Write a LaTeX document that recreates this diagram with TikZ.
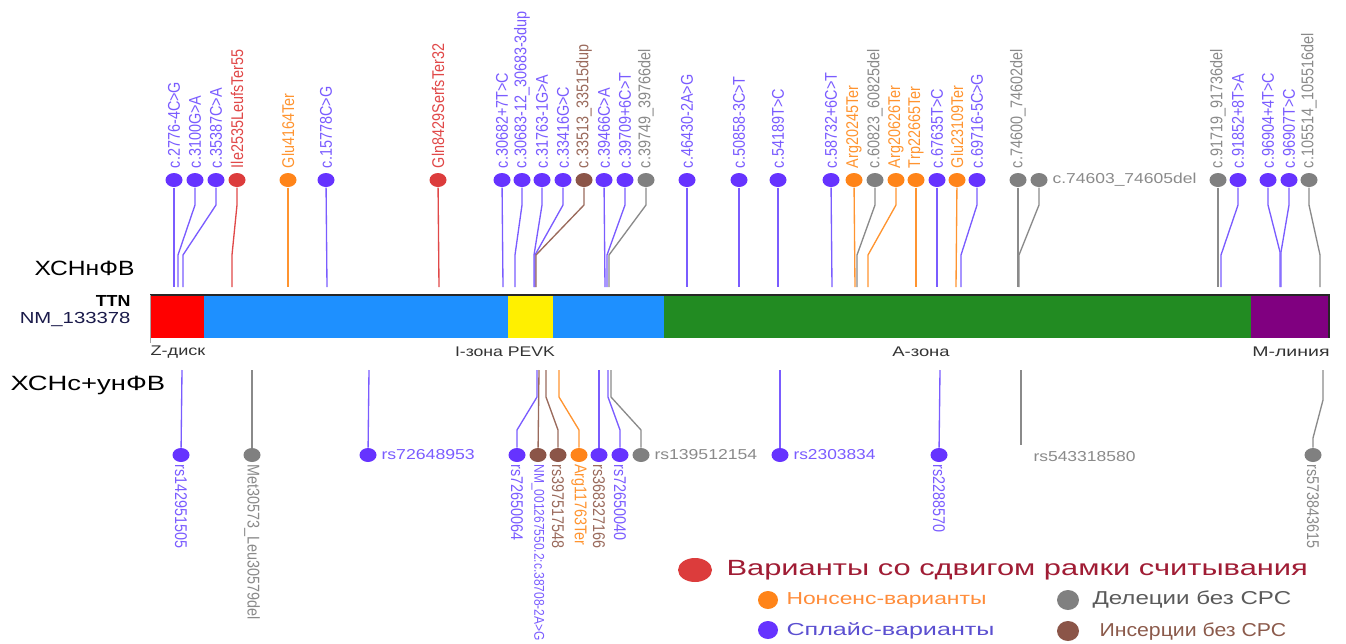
\documentclass[tikz,border=0pt]{standalone}
\usepackage{fontspec}
\setmainfont{Liberation Sans}
\usepackage{graphicx}
\usetikzlibrary{shapes.geometric}

\definecolor{splc}{HTML}{6633FF}
\definecolor{splcl}{HTML}{7A5CFF}
\definecolor{fsh}{HTML}{DC3C3C}
\definecolor{fshl}{HTML}{E04848}
\definecolor{nons}{HTML}{FF8419}
\definecolor{nonsl}{HTML}{FF9430}
\definecolor{dele}{HTML}{808080}
\definecolor{delel}{HTML}{8A8A8A}
\definecolor{ins}{HTML}{8B5548}
\definecolor{insl}{HTML}{9A6A5C}
\definecolor{zdisk}{HTML}{FF0000}
\definecolor{izone}{HTML}{1E90FF}
\definecolor{pevk}{HTML}{FFF000}
\definecolor{azone}{HTML}{228B22}
\definecolor{mline}{HTML}{800080}
\definecolor{navy}{HTML}{1A1A4A}
\definecolor{legred}{HTML}{A01C34}
\definecolor{legorange}{HTML}{FF8C3A}
\definecolor{leggray}{HTML}{5A5A5A}
\definecolor{legblue}{HTML}{5B4FD0}
\definecolor{legbrown}{HTML}{8B5A4B}

\newcommand{\fitw}[2]{\resizebox{#1}{\height}{#2}}
\newcommand{\vt}[1]{\scalebox{1}[1.18]{#1}}

\tikzset{every picture/.style={line width=0.75pt}}
\tikzset{
  dot/.style={ellipse, inner sep=0pt, minimum width=12.75pt, minimum height=10.5pt},
  stem/.style={line width=1pt},
  varfont/.style={font=\fontsize{10.8}{12}\selectfont},
  uplbl/.style={varfont, rotate=90, anchor=west, inner xsep=3pt, inner ysep=0pt},
  dnlbl/.style={varfont, rotate=-90, anchor=west, inner xsep=1pt, inner ysep=0pt},
  sidelbl/.style={varfont, anchor=west, inner xsep=3pt, inner ysep=0pt},
  zonelbl/.style={font=\fontsize{10.5}{12}\selectfont, text=black!80, inner sep=0pt},
  grplbl/.style={anchor=west, inner sep=0pt, font=\fontsize{15.5}{18}\selectfont},
  legdot/.style={ellipse, inner sep=0pt, minimum width=15pt, minimum height=13.5pt},
  legtxt/.style={anchor=west, inner sep=0pt, font=\fontsize{13}{15}\selectfont},
}

\begin{document}
\begin{tikzpicture}[x=0.75pt,y=0.75pt,yscale=-1,xscale=1]
	\useasboundingbox (0,0) rectangle (1346,643);
	
	%Shape: gene bar
	\fill[zdisk] (150,295) rectangle (204,338);
	\fill[izone] (204,295) rectangle (508,338);
	\fill[pevk] (508,295) rectangle (553,338);
	\fill[izone] (553,295) rectangle (664,338);
	\fill[azone] (664,295) rectangle (1251,338);
	\fill[mline] (1251,295) rectangle (1329,338);
	\draw[line width=1.5pt, black!85] (150,295) -- (1330,295);
	\draw[line width=1.5pt, black!85] (1329,295) -- (1329,338);
	\draw[black!35] (150,295) -- (150,343);
	
	% Zone labels
	\node[zonelbl] (zd) at (178,352) {\fitw{41pt}{Z-диск}};
	\node[zonelbl] (iz) at (505,352) {\fitw{75pt}{I-зона PEVK}};
	\node[zonelbl] (az) at (921,352) {\fitw{43pt}{A-зона}};
	\node[zonelbl] (ml) at (1291,352) {\fitw{58pt}{M-линия}};
	
	% Left labels
	\node[grplbl] (grp1) at (34,268) {\fitw{75pt}{ХСНнФВ}};
	\node[anchor=east, inner sep=0pt, font=\bfseries\fontsize{12}{14}\selectfont] (gene) at (131,301) {\fitw{26pt}{TTN}};
	\node[anchor=east, inner sep=0pt, font=\fontsize{12}{14}\selectfont, text=navy] (tr) at (131,319) {\fitw{83pt}{NM\_133378}};
	\node[grplbl] (grp2) at (10,385) {\fitw{116pt}{ХСНс+унФВ}};
	
	%Top: c.2776-4C>G
	\coordinate (tb1) at (174,287);
	\node[dot, fill=splc] (t1) at (174,180) {};
	\node[uplbl, text=splcl] (tl1) at (t1.north) {\vt{c.2776-4C>G}};
	\draw[stem, splcl] (t1) -- (tb1);
	%Top: c.3100G>A
	\coordinate (tb2) at (178,287);
	\node[dot, fill=splc] (t2) at (195,180) {};
	\node[uplbl, text=splcl] (tl2) at (t2.north) {\vt{c.3100G>A}};
	\draw[stem, splcl] (t2) -- (195,205) -- (178,255) -- (tb2);
	%Top: c.35387C>A
	\coordinate (tb3) at (183,287);
	\node[dot, fill=splc] (t3) at (216,180) {};
	\node[uplbl, text=splcl] (tl3) at (t3.north) {\vt{c.35387C>A}};
	\draw[stem, splcl] (t3) -- (216,205) -- (183,255) -- (tb3);
	%Top: Ile2535LeufsTer55
	\coordinate (tb4) at (232,287);
	\node[dot, fill=fsh] (t4) at (237,180) {};
	\node[uplbl, text=fshl] (tl4) at (t4.north) {\vt{Ile2535LeufsTer55}};
	\draw[stem, fshl] (t4) -- (237,205) -- (232,255) -- (tb4);
	%Top: Glu4164Ter
	\coordinate (tb5) at (288,287);
	\node[dot, fill=nons] (t5) at (288,180) {};
	\node[uplbl, text=nonsl] (tl5) at (t5.north) {\vt{Glu4164Ter}};
	\draw[stem, nonsl] (t5) -- (tb5);
	%Top: c.15778C>G
	\coordinate (tb6) at (327,287);
	\node[dot, fill=splc] (t6) at (326,180) {};
	\node[uplbl, text=splcl] (tl6) at (t6.north) {\vt{c.15778C>G}};
	\draw[stem, splcl] (t6) -- (tb6);
	%Top: Gln8429SerfsTer32
	\coordinate (tb7) at (439,287);
	\node[dot, fill=fsh] (t7) at (438,180) {};
	\node[uplbl, text=fshl] (tl7) at (t7.north) {\vt{Gln8429SerfsTer32}};
	\draw[stem, fshl] (t7) -- (tb7);
	%Top: c.30682+7T>C
	\coordinate (tb8) at (503,287);
	\node[dot, fill=splc] (t8) at (502,180) {};
	\node[uplbl, text=splcl] (tl8) at (t8.north) {\vt{c.30682+7T>C}};
	\draw[stem, splcl] (t8) -- (tb8);
	%Top: c.30683-12_30683-3dup
	\coordinate (tb9) at (515,287);
	\node[dot, fill=splc] (t9) at (522,180) {};
	\node[uplbl, text=splcl] (tl9) at (t9.north) {\vt{c.30683-12\_30683-3dup}};
	\draw[stem, splcl] (t9) -- (522,205) -- (515,255) -- (tb9);
	%Top: c.31763-1G>A
	\coordinate (tb10) at (534,287);
	\node[dot, fill=splc] (t10) at (542,180) {};
	\node[uplbl, text=splcl] (tl10) at (t10.north) {\vt{c.31763-1G>A}};
	\draw[stem, splcl] (t10) -- (542,205) -- (534,255) -- (tb10);
	%Top: c.33416G>C
	\coordinate (tb11) at (535,287);
	\node[dot, fill=splc] (t11) at (563,180) {};
	\node[uplbl, text=splcl] (tl11) at (t11.north) {\vt{c.33416G>C}};
	\draw[stem, splcl] (t11) -- (563,205) -- (535,255) -- (tb11);
	%Top: c.33513_33515dup
	\coordinate (tb12) at (536,287);
	\node[dot, fill=ins] (t12) at (584,180) {};
	\node[uplbl, text=insl] (tl12) at (t12.north) {\vt{c.33513\_33515dup}};
	\draw[stem, insl] (t12) -- (584,205) -- (536,255) -- (tb12);
	%Top: c.39466C>A
	\coordinate (tb13) at (605,287);
	\node[dot, fill=splc] (t13) at (604,180) {};
	\node[uplbl, text=splcl] (tl13) at (t13.north) {\vt{c.39466C>A}};
	\draw[stem, splcl] (t13) -- (tb13);
	%Top: c.39709+6C>T
	\coordinate (tb14) at (607,287);
	\node[dot, fill=splc] (t14) at (625,180) {};
	\node[uplbl, text=splcl] (tl14) at (t14.north) {\vt{c.39709+6C>T}};
	\draw[stem, splcl] (t14) -- (625,205) -- (607,255) -- (tb14);
	%Top: c.39749_39766del
	\coordinate (tb15) at (609,287);
	\node[dot, fill=dele] (t15) at (646,180) {};
	\node[uplbl, text=delel] (tl15) at (t15.north) {\vt{c.39749\_39766del}};
	\draw[stem, delel] (t15) -- (646,205) -- (609,255) -- (tb15);
	%Top: c.46430-2A>G
	\coordinate (tb16) at (687,287);
	\node[dot, fill=splc] (t16) at (687,180) {};
	\node[uplbl, text=splcl] (tl16) at (t16.north) {\vt{c.46430-2A>G}};
	\draw[stem, splcl] (t16) -- (tb16);
	%Top: c.50858-3C>T
	\coordinate (tb17) at (739,287);
	\node[dot, fill=splc] (t17) at (739,180) {};
	\node[uplbl, text=splcl] (tl17) at (t17.north) {\vt{c.50858-3C>T}};
	\draw[stem, splcl] (t17) -- (tb17);
	%Top: c.54189T>C
	\coordinate (tb18) at (778,287);
	\node[dot, fill=splc] (t18) at (778,180) {};
	\node[uplbl, text=splcl] (tl18) at (t18.north) {\vt{c.54189T>C}};
	\draw[stem, splcl] (t18) -- (tb18);
	%Top: c.58732+6C>T
	\coordinate (tb19) at (832,287);
	\node[dot, fill=splc] (t19) at (831,180) {};
	\node[uplbl, text=splcl] (tl19) at (t19.north) {\vt{c.58732+6C>T}};
	\draw[stem, splcl] (t19) -- (tb19);
	%Top: Arg20245Ter
	\coordinate (tb20) at (855,287);
	\node[dot, fill=nons] (t20) at (854,180) {};
	\node[uplbl, text=nonsl] (tl20) at (t20.north) {\vt{Arg20245Ter}};
	\draw[stem, nonsl] (t20) -- (tb20);
	%Top: c.60823_60825del
	\coordinate (tb21) at (857,287);
	\node[dot, fill=dele] (t21) at (875,180) {};
	\node[uplbl, text=delel] (tl21) at (t21.north) {\vt{c.60823\_60825del}};
	\draw[stem, delel] (t21) -- (875,205) -- (857,255) -- (tb21);
	%Top: Arg20626Ter
	\coordinate (tb22) at (868,287);
	\node[dot, fill=nons] (t22) at (896,180) {};
	\node[uplbl, text=nonsl] (tl22) at (t22.north) {\vt{Arg20626Ter}};
	\draw[stem, nonsl] (t22) -- (896,205) -- (868,255) -- (tb22);
	%Top: Trp22665Ter
	\coordinate (tb23) at (916,287);
	\node[dot, fill=nons] (t23) at (916,180) {};
	\node[uplbl, text=nonsl] (tl23) at (t23.north) {\vt{Trp22665Ter}};
	\draw[stem, nonsl] (t23) -- (tb23);
	%Top: c.67635T>C
	\coordinate (tb24) at (937,287);
	\node[dot, fill=splc] (t24) at (937,180) {};
	\node[uplbl, text=splcl] (tl24) at (t24.north) {\vt{c.67635T>C}};
	\draw[stem, splcl] (t24) -- (tb24);
	%Top: Glu23109Ter
	\coordinate (tb25) at (956,287);
	\node[dot, fill=nons] (t25) at (957,180) {};
	\node[uplbl, text=nonsl] (tl25) at (t25.north) {\vt{Glu23109Ter}};
	\draw[stem, nonsl] (t25) -- (tb25);
	%Top: c.69716-5C>G
	\coordinate (tb26) at (961,287);
	\node[dot, fill=splc] (t26) at (977,180) {};
	\node[uplbl, text=splcl] (tl26) at (t26.north) {\vt{c.69716-5C>G}};
	\draw[stem, splcl] (t26) -- (977,205) -- (961,255) -- (tb26);
	%Top: c.74600_74602del
	\coordinate (tb27) at (1018,287);
	\node[dot, fill=dele] (t27) at (1018,180) {};
	\node[uplbl, text=delel] (tl27) at (t27.north) {\vt{c.74600\_74602del}};
	\draw[stem, delel] (t27) -- (tb27);
	%Top: c.74603_74605del
	\coordinate (tb28) at (1019,287);
	\node[dot, fill=dele] (t28) at (1039,180) {};
	\node[sidelbl, text=delel] (tl28) at (t28.east) {\fitw{108pt}{c.74603\_74605del}};
	\draw[stem, delel] (t28) -- (1039,205) -- (1019,255) -- (tb28);
	%Top: c.91719_91736del
	\coordinate (tb29) at (1218,287);
	\node[dot, fill=dele] (t29) at (1218,180) {};
	\node[uplbl, text=delel] (tl29) at (t29.north) {\vt{c.91719\_91736del}};
	\draw[stem, delel] (t29) -- (tb29);
	%Top: c.91852+8T>A
	\coordinate (tb30) at (1221,287);
	\node[dot, fill=splc] (t30) at (1238,180) {};
	\node[uplbl, text=splcl] (tl30) at (t30.north) {\vt{c.91852+8T>A}};
	\draw[stem, splcl] (t30) -- (1238,205) -- (1221,255) -- (tb30);
	%Top: c.96904+4T>C
	\coordinate (tb31) at (1280,287);
	\node[dot, fill=splc] (t31) at (1268,180) {};
	\node[uplbl, text=splcl] (tl31) at (t31.north) {\vt{c.96904+4T>C}};
	\draw[stem, splcl] (t31) -- (1268,205) -- (1280,252) -- (tb31);
	%Top: c.96907T>C
	\coordinate (tb32) at (1281,287);
	\node[dot, fill=splc] (t32) at (1289,180) {};
	\node[uplbl, text=splcl] (tl32) at (t32.north) {\vt{c.96907T>C}};
	\draw[stem, splcl] (t32) -- (1289,205) -- (1281,252) -- (tb32);
	%Top: c.105514_105516del
	\coordinate (tb33) at (1320,287);
	\node[dot, fill=dele] (t33) at (1309,180) {};
	\node[uplbl, text=delel] (tl33) at (t33.north) {\vt{c.105514\_105516del}};
	\draw[stem, delel] (t33) -- (1309,205) -- (1320,255) -- (tb33);
	
	%Bottom: rs142951505
	\coordinate (bb1) at (182,370);
	\node[dot, fill=splc] (b1) at (181,455) {};
	\node[dnlbl, text=splcl] (bl1) at (b1.south) {\vt{rs142951505}};
	\draw[stem, splcl] (bb1) -- (b1);
	%Bottom: Met30573_Leu30579del
	\coordinate (bb2) at (252,370);
	\node[dot, fill=dele] (b2) at (252,455) {};
	\node[dnlbl, text=delel] (bl2) at (b2.south) {\vt{Met30573\_Leu30579del}};
	\draw[stem, delel] (bb2) -- (b2);
	%Bottom: rs72648953
	\coordinate (bb3) at (369,370);
	\node[dot, fill=splc] (b3) at (368,455) {};
	\node[sidelbl, text=splcl] (bl3) at (b3.east) {\fitw{70pt}{rs72648953}};
	\draw[stem, splcl] (bb3) -- (b3);
	%Bottom: rs72650064
	\coordinate (bb4) at (537,370);
	\node[dot, fill=splc] (b4) at (517,455) {};
	\node[dnlbl, text=splcl] (bl4) at (b4.south) {\vt{rs72650064}};
	\draw[stem, splcl] (bb4) -- (537,397) -- (517,430) -- (b4);
	%Bottom: NM_001267550.2:c.38708-2A>G
	\coordinate (bb5) at (539,370);
	\node[dot, fill=ins] (b5) at (538,455) {};
	\node[dnlbl, text=splcl, font=\fontsize{9}{10}\selectfont] (bl5) at (b5.south) {\vt{NM\_001267550.2:c.38708-2A>G}};
	\draw[stem, insl] (bb5) -- (b5);
	%Bottom: rs397517548
	\coordinate (bb6) at (546,370);
	\node[dot, fill=ins] (b6) at (558,455) {};
	\node[dnlbl, text=insl] (bl6) at (b6.south) {\vt{rs397517548}};
	\draw[stem, insl] (bb6) -- (546,397) -- (558,430) -- (b6);
	%Bottom: Arg11763Ter
	\coordinate (bb7) at (559,370);
	\node[dot, fill=nons] (b7) at (579,455) {};
	\node[dnlbl, text=nonsl] (bl7) at (b7.south) {\vt{Arg11763Ter}};
	\draw[stem, nonsl] (bb7) -- (559,397) -- (579,430) -- (b7);
	%Bottom: rs368327166
	\coordinate (bb8) at (599,370);
	\node[dot, fill=splc] (b8) at (599,455) {};
	\node[dnlbl, text=insl] (bl8) at (b8.south) {\vt{rs368327166}};
	\draw[stem, splcl] (bb8) -- (b8);
	%Bottom: rs72650040
	\coordinate (bb9) at (608,370);
	\node[dot, fill=splc] (b9) at (620,455) {};
	\node[dnlbl, text=splcl] (bl9) at (b9.south) {\vt{rs72650040}};
	\draw[stem, splcl] (bb9) -- (608,397) -- (620,430) -- (b9);
	%Bottom: rs139512154
	\coordinate (bb10) at (611,370);
	\node[dot, fill=dele] (b10) at (641,455) {};
	\node[sidelbl, text=delel] (bl10) at (b10.east) {\fitw{77pt}{rs139512154}};
	\draw[stem, delel] (bb10) -- (611,397) -- (641,430) -- (b10);
	%Bottom: rs2303834
	\coordinate (bb11) at (780,370);
	\node[dot, fill=splc] (b11) at (780,455) {};
	\node[sidelbl, text=splcl] (bl11) at (b11.east) {\fitw{61.5pt}{rs2303834}};
	\draw[stem, splcl] (bb11) -- (b11);
	%Bottom: rs2288570
	\coordinate (bb12) at (940,370);
	\node[dot, fill=splc] (b12) at (939,455) {};
	\node[dnlbl, text=splcl] (bl12) at (b12.south) {\vt{rs2288570}};
	\draw[stem, splcl] (bb12) -- (b12);
	%Bottom: rs543318580
	\coordinate (bb13) at (1021,370);
	\coordinate (be13) at (1021,445);
	\node[sidelbl, inner xsep=0pt, text=delel] (bl13) at (1033,457) {\fitw{76.5pt}{rs543318580}};
	\draw[stem, delel] (bb13) -- (be13);
	%Bottom: rs573843615
	\coordinate (bb14) at (1323,370);
	\node[dot, fill=dele] (b14) at (1313,455) {};
	\node[dnlbl, text=delel] (bl14) at (b14.south) {\vt{rs573843615}};
	\draw[stem, delel] (bb14) -- (1323,400) -- (1313,438) -- (b14);
	
	% Legend
	\node[legdot, fill=fsh, minimum width=25.5pt, minimum height=18pt] (lg1) at (695,570) {};
	\node[legtxt, text=legred, font=\fontsize{16.5}{18}\selectfont] (lt1) at (726,570) {\fitw{436pt}{Варианты со сдвигом рамки считывания}};
	\node[legdot, fill=nons] (lg2) at (768,600) {};
	\node[legtxt, text=legorange] (lt2) at (786,600) {\fitw{150pt}{Нонсенс-варианты}};
	\node[legdot, fill=splc] (lg3) at (768,630) {};
	\node[legtxt, text=legblue] (lt3) at (786,631) {\fitw{156pt}{Сплайс-варианты}};
	\node[legdot, fill=dele, minimum width=16.5pt, minimum height=15pt] (lg4) at (1068,600) {};
	\node[legtxt, text=leggray, font=\fontsize{14}{16}\selectfont] (lt4) at (1092,600) {\fitw{149pt}{Делеции без СРС}};
	\node[legdot, fill=ins, minimum width=16.5pt, minimum height=15pt] (lg5) at (1068,631) {};
	\node[legtxt, text=legbrown, font=\fontsize{14}{16}\selectfont] (lt5) at (1099,632) {\fitw{140pt}{Инсерции без СРС}};
	
\end{tikzpicture}
\end{document}
